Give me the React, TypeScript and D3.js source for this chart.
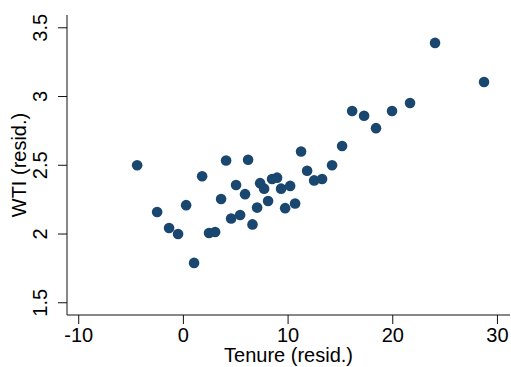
import React from 'react';
import * as d3 from 'd3';

// residualised tenure (x) and WTI (y)
const tenure = [
  -4.42, -2.51, -1.37, -0.51, 0.26, 1.02, 1.79, 2.45, 3.03, 3.6,
  4.08, 4.56, 5.03, 5.42, 5.89, 6.18, 6.6, 7.04, 7.33, 7.71,
  8.09, 8.47, 8.95, 9.33, 9.72, 10.2, 10.67, 11.24, 11.82, 12.49,
  13.25, 14.2, 15.16, 16.12, 17.26, 18.4, 19.93, 21.65, 24.04, 28.72,
];
const wti = [
  2.5, 2.16, 2.044, 2.0, 2.21, 1.79, 2.42, 2.007, 2.015, 2.255,
  2.535, 2.113, 2.357, 2.138, 2.29, 2.54, 2.07, 2.192, 2.37, 2.33,
  2.24, 2.4, 2.41, 2.33, 2.188, 2.35, 2.222, 2.6, 2.46, 2.39,
  2.4, 2.5, 2.64, 2.895, 2.86, 2.77, 2.895, 2.953, 3.39, 3.106,
];
const xTicks = [-10, 0, 10, 20, 30];
const yTicks = [1.5, 2, 2.5, 3, 3.5];
const xTitle = 'Tenure (resid.)';
const yTitle = 'WTI (resid.)';

const width = 511;
const height = 367;
const margin = { top: 15, right: 1, bottom: 52, left: 67 };
const font = '"Liberation Sans", Arial, sans-serif';
const fs = 20;
const navy = '#1a476f';

export default function App() {
  const x = d3.scaleLinear()
    .domain([-11.12, 31.2])
    .range([margin.left, width - margin.right]);
  const y = d3.scaleLinear()
    .domain([1.411, 3.593])
    .range([height - margin.bottom, margin.top]);

  const bottom = height - margin.bottom;

  return (
    <svg width={width} height={height} style={{ display: 'block', background: '#fff' }}>
      <style>{`body{margin:0}`}</style>
      {/* y axis */}
      <line x1={margin.left} x2={margin.left} y1={margin.top} y2={bottom} stroke="#111" strokeWidth={1} />
      {yTicks.map(t => (
        <g key={'y' + t}>
          <line x1={margin.left - 9} x2={margin.left} y1={y(t)} y2={y(t)} stroke="#111" strokeWidth={1} />
          <text
            transform={`translate(${margin.left - 20},${y(t)}) rotate(-90)`}
            textAnchor="middle"
            fontFamily={font}
            fontSize={fs}
            fill="#000"
          >{t}</text>
        </g>
      ))}
      {/* x axis */}
      <line x1={margin.left} x2={width - margin.right} y1={bottom} y2={bottom} stroke="#111" strokeWidth={1} />
      {xTicks.map(t => (
        <g key={'x' + t}>
          <line x1={x(t)} x2={x(t)} y1={bottom} y2={bottom + 9} stroke="#111" strokeWidth={1} />
          <text x={x(t)} y={bottom + 27} textAnchor="middle" fontFamily={font} fontSize={fs} fill="#000">{String(t)}</text>
        </g>
      ))}
      {/* titles */}
      <text x={(margin.left + width - margin.right) / 2} y={362} textAnchor="middle" fontFamily={font} fontSize={fs} fill="#000">{xTitle}</text>
      <text
        transform={`translate(26,${(margin.top + bottom) / 2}) rotate(-90)`}
        textAnchor="middle"
        fontFamily={font}
        fontSize={fs}
        fill="#000"
      >{yTitle}</text>
      {/* points */}
      <g fill={navy}>
        {tenure.map((d, i) => (
          <circle key={i} cx={x(d)} cy={y(wti[i])} r={5.3} />
        ))}
      </g>
    </svg>
  );
}
